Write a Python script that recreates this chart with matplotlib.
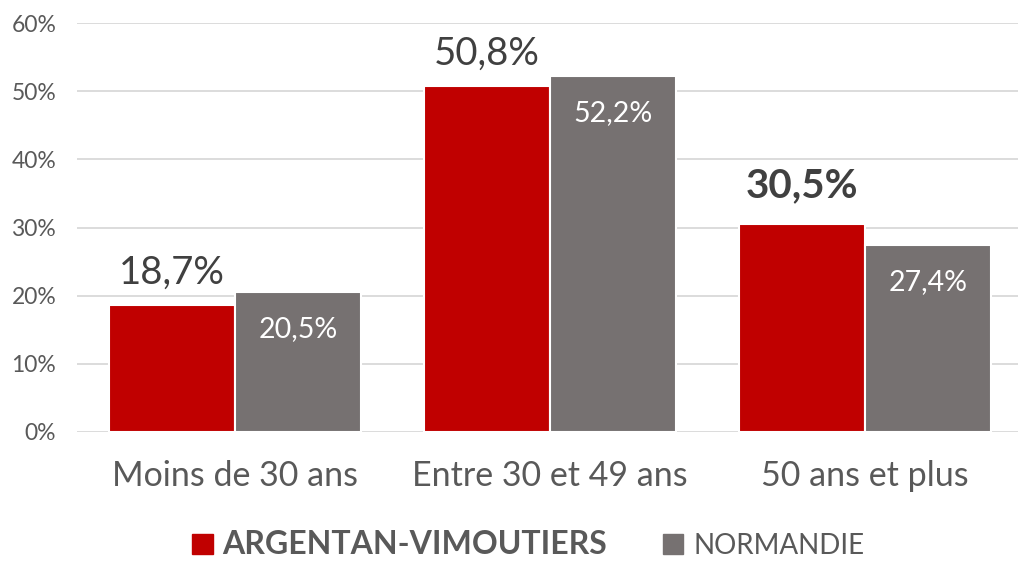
import matplotlib
matplotlib.use("Agg")
import matplotlib.pyplot as plt
import numpy as np
from matplotlib.patches import Patch

categories = ["Moins de 30 ans", "Entre 30 et 49 ans", "50 ans et plus"]
series_names = ["ARGENTAN-VIMOUTIERS", "NORMANDIE"]
argentan = [18.7, 50.8, 30.5]
normandie = [20.5, 52.2, 27.4]
yticks = [0, 10, 20, 30, 40, 50, 60]
bold_label = [False, False, True]

RED = "#C00000"
GRAY = "#767171"
DARK = "#404040"
TICK = "#595959"

plt.rcParams['font.family'] = ['Lato', 'DejaVu Sans']

W, H = 1018, 561
fig = plt.figure(figsize=(W / 100, H / 100), dpi=100)
ax = fig.add_axes([77 / W, (H - 432) / H, (W - 77) / W, 409 / H])

x = np.arange(len(categories))
bw = 0.4
b1 = ax.bar(x - bw / 2, argentan, bw, color=RED, edgecolor="white", linewidth=1.5, zorder=3)
b2 = ax.bar(x + bw / 2, normandie, bw, color=GRAY, edgecolor="white", linewidth=1.5, zorder=3)

ax.set_xlim(-0.5016, 2.487)
ax.set_ylim(0, 60)
ax.set_yticks(yticks)
ax.set_yticklabels([f"{t}%" for t in yticks], color=TICK, fontsize=16.5)
ax.yaxis.grid(True, color="#D9D9D9", linewidth=1.3, zorder=0)
ax.set_axisbelow(True)
for s in ax.spines.values():
    s.set_visible(False)
ax.tick_params(axis='y', length=0, pad=15)
ax.set_xticks(x)
ax.set_xticklabels(categories, fontsize=24.5, color=TICK)
ax.tick_params(axis='x', length=0, pad=20)

for xi, v, b in zip(x, argentan, bold_label):
    ax.annotate(f"{v:.1f}%".replace(".", ","), (xi - bw / 2, v),
                xytext=(0, 19 if b else 15), textcoords="offset points",
                ha="center", va="baseline", fontsize=29 if b else 27.5,
                fontweight="bold" if b else "normal", color=DARK)
for xi, v in zip(x, normandie):
    ax.annotate(f"{v:.1f}%".replace(".", ","), (xi + bw / 2, v),
                xytext=(0, -32), textcoords="offset points",
                ha="center", va="baseline", fontsize=20.5, color="white")

handles = [Patch(color=RED), Patch(color=GRAY)]
leg = fig.legend(handles, series_names, loc="center", bbox_to_anchor=(528 / W, (H - 544) / H),
                 ncol=2, frameon=False, handlelength=0.75, handleheight=0.75,
                 handletextpad=0.35, columnspacing=2.0, fontsize=20,
                 borderpad=0.2)
t0, t1 = leg.get_texts()
t0.set_fontweight("bold"); t0.set_fontsize(23); t0.set_color(TICK)
t1.set_color(TICK)

fig.savefig("out.png", dpi=100)
